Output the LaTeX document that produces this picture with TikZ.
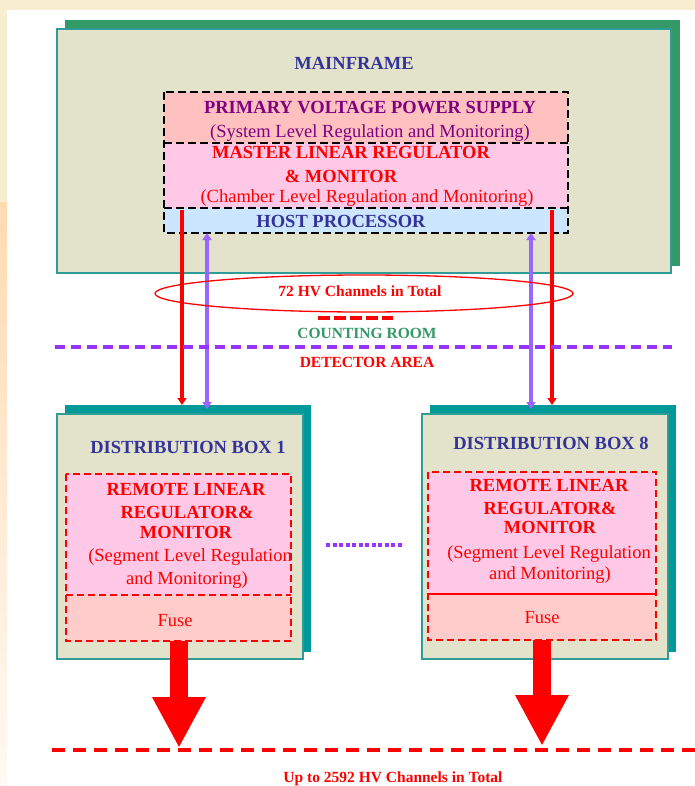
\documentclass[tikz,border=0pt]{standalone}
\usepackage{fontspec}
\setmainfont{Liberation Serif}
\usetikzlibrary{arrows.meta,shapes.geometric}

\definecolor{mfshadow}{HTML}{339966}
\definecolor{dbshadow}{HTML}{009999}
\definecolor{tealline}{HTML}{2F9C98}
\definecolor{khaki}{HTML}{E3E2CA}
\definecolor{pvpsfill}{HTML}{FFC0C0}
\definecolor{mlrfill}{HTML}{FFC8E6}
\definecolor{hostfill}{HTML}{CCE6FF}
\definecolor{fusefill}{HTML}{FFCCCC}
\definecolor{txtpurple}{HTML}{800080}
\definecolor{txtnavy}{HTML}{333399}
\definecolor{txtgreen}{HTML}{339966}
\definecolor{hvpurple}{HTML}{9966FF}
\definecolor{areapurple}{HTML}{9933FF}
\definecolor{bgbeige}{HTML}{F7EDCF}
\definecolor{bgorange}{HTML}{FDDBB2}

\tikzset{
  box/.style={rectangle, inner sep=0pt, outer sep=0pt},
  headtxt/.style={inner sep=0pt, anchor=base, font=\fontsize{18.5}{20}\selectfont\bfseries},
  subtxt/.style={inner sep=0pt, anchor=base, font=\fontsize{18.5}{20}\selectfont},
  smalltxt/.style={inner sep=0pt, anchor=base, font=\fontsize{15.5}{17}\selectfont\bfseries},
  blkdash/.style={black, line width=2.8pt, dash pattern=on 8pt off 4pt},
  reddash/.style={red, line width=2.2pt, dash pattern=on 7pt off 4pt},
  hvred/.style={red, line width=4pt, -{Triangle[length=7pt,width=9pt]}},
  hvctrl/.style={hvpurple, line width=3.5pt, {Triangle[length=7pt,width=9pt]}-{Triangle[length=7pt,width=9pt]}},
  bigarrow/.style={red, line width=18pt, -{Triangle[length=51pt,width=50pt]}}
}

\begin{document}
\begin{tikzpicture}[x=1pt,y=-1pt]
	%%%%% START %%%%%
	\useasboundingbox (0,0) rectangle (695,786);
	\fill[white] (0,0) rectangle (695,786);
	\fill[bgbeige] (0,0) rectangle (695,10);
	\fill[bgbeige] (0,0) rectangle (7,203);
	\shade[top color=bgorange, bottom color=white!85!bgorange] (0,203) rectangle (7,786);
	
	% mainframe
	\node[box, fill=mfshadow, minimum width=615pt, minimum height=246pt] (mfsh) at (372.5,143) {};
	\node[box, fill=khaki, draw=tealline, line width=2pt, minimum width=614pt, minimum height=244pt] (mf) at (364,151) {};
	\node[headtxt, text=txtnavy] (tmf) at (354,70) {MAINFRAME};
	
	\node[box, fill=pvpsfill, minimum width=404pt, minimum height=51pt] (pvps) at (366,117.5) {};
	\node[box, fill=mlrfill, minimum width=404pt, minimum height=65pt] (mlr) at (366,175.5) {};
	\node[box, fill=hostfill, minimum width=404pt, minimum height=25pt] (host) at (366,220.5) {};
	
	\node[headtxt, text=txtpurple] (tpvps) at (370,114) {PRIMARY VOLTAGE POWER SUPPLY};
	\node[subtxt, text=txtpurple] (tsys) at (370,138) {(System Level Regulation and Monitoring)};
	\node[headtxt, text=red] (tmlra) at (351,159) {MASTER LINEAR REGULATOR};
	\node[headtxt, text=red] (tmlrb) at (341,183) {\& MONITOR};
	\node[subtxt, text=red] (tcham) at (367,203) {(Chamber Level Regulation and Monitoring)};
	\node[headtxt, text=txtnavy] (thost) at (341,227) {HOST PROCESSOR};
	
	\draw[blkdash] (pvps.south west) -- (pvps.south east);
	\draw[blkdash] (mlr.south west) -- (mlr.south east);
	\draw[blkdash] (pvps.north west) rectangle (host.south east);
	
	% distribution boxes
	\node[box, fill=dbshadow, minimum width=246pt, minimum height=247pt] (dbash) at (188,528.5) {};
	\node[box, fill=khaki, draw=tealline, line width=2pt, minimum width=246pt, minimum height=245pt] (dba) at (180,536.5) {};
	\node[box, fill=mlrfill, minimum width=225pt, minimum height=121pt] (rlra) at (178.5,534.5) {};
	\node[box, fill=fusefill, minimum width=225pt, minimum height=46pt] (fusea) at (178.5,618) {};
	
	\node[box, fill=dbshadow, minimum width=246pt, minimum height=247pt] (dbhsh) at (553,528.5) {};
	\node[box, fill=khaki, draw=tealline, line width=2pt, minimum width=246pt, minimum height=245pt] (dbh) at (545,536.5) {};
	\node[box, fill=mlrfill, minimum width=228pt, minimum height=122pt] (rlrh) at (542,533) {};
	\node[box, fill=fusefill, minimum width=228pt, minimum height=46pt] (fuseh) at (542,617) {};
	
	\node[headtxt, text=txtnavy] (tdba) at (188,453) {DISTRIBUTION BOX 1};
	\node[headtxt, text=red] (trla) at (186,495) {REMOTE LINEAR};
	\node[headtxt, text=red] (trlb) at (187,518) {REGULATOR\&};
	\node[headtxt, text=red] (trlc) at (186,538) {MONITOR};
	\node[subtxt, text=red] (tsega) at (190,561) {(Segment Level Regulation};
	\node[subtxt, text=red] (tsegb) at (187,584) {and Monitoring)};
	\node[subtxt, text=red] (tfusea) at (175,626) {Fuse};
	
	\node[headtxt, text=txtnavy] (tdbh) at (551,449) {DISTRIBUTION BOX 8};
	\node[headtxt, text=red] (trha) at (549,491) {REMOTE LINEAR};
	\node[headtxt, text=red] (trhb) at (550,514) {REGULATOR\&};
	\node[headtxt, text=red] (trhc) at (550,533) {MONITOR};
	\node[subtxt, text=red] (tsegc) at (549,558) {(Segment Level Regulation};
	\node[subtxt, text=red] (tsegd) at (550,579) {and Monitoring)};
	\node[subtxt, text=red] (tfuseh) at (542,623) {Fuse};
	
	\draw[reddash] (rlra.north west) rectangle (fusea.south east);
	\draw[reddash] (rlra.south west) -- (rlra.south east);
	\draw[reddash] (rlrh.north west) rectangle (fuseh.south east);
	\draw[red, line width=2.5pt] (rlrh.south west) -- (rlrh.south east);
	
	% HV and control lines
	\coordinate (hvl) at (182,210);
	\coordinate (hvr) at (552,210);
	\coordinate (ctl) at (207,0);
	\coordinate (ctr) at (531,0);
	\draw[hvred] (hvl) -- (hvl |- dbash.north);
	\draw[hvred] (hvr) -- (hvr |- dbhsh.north);
	\draw[hvctrl] (ctl |- host.south) -- ([yshift=-4pt]ctl |- dbash.north);
	\draw[hvctrl] (ctr |- host.south) -- ([yshift=-4pt]ctr |- dbhsh.north);
	
	\node[ellipse, draw=red, line width=1.3pt, minimum width=418pt, minimum height=37pt] (chan) at (364,293.5) {};
	\node[smalltxt, text=red] (tchan) at (360,296) {72 HV Channels in Total};
	
	% counting room / detector area
	\coordinate (crl) at (318,318);
	\coordinate (crr) at (393,318);
	\draw[red, line width=4pt, dash pattern=on 12pt off 4pt] (crl) -- (crr);
	\node[smalltxt, text=txtgreen] (tcr) at (367,338) {COUNTING ROOM};
	\coordinate (dal) at (55,347);
	\coordinate (dar) at (672,347);
	\draw[areapurple, line width=3.5pt, dash pattern=on 10pt off 6pt] (dal) -- (dar);
	\node[smalltxt, text=red] (tda) at (367,367) {DETECTOR AREA};
	
	\coordinate (dotl) at (326,545);
	\coordinate (dotr) at (404,545);
	\draw[areapurple, line width=4pt, dash pattern=on 4pt off 2.5pt] (dotl) -- (dotr);
	
	% outputs
	\coordinate (outl) at (179,748);
	\coordinate (outr) at (542,746);
	\draw[bigarrow] (outl |- fusea.south) -- (outl);
	\draw[bigarrow] (outr |- fuseh.south) -- (outr);
	\coordinate (botl) at (52,750);
	\coordinate (botr) at (695,750);
	\draw[red, line width=3.5pt, dash pattern=on 13pt off 8pt] (botl) -- (botr);
	\node[smalltxt, text=red] (tout) at (393,782) {Up to 2592 HV Channels in Total};
	%%%%% END %%%%%
\end{tikzpicture}
\end{document}
